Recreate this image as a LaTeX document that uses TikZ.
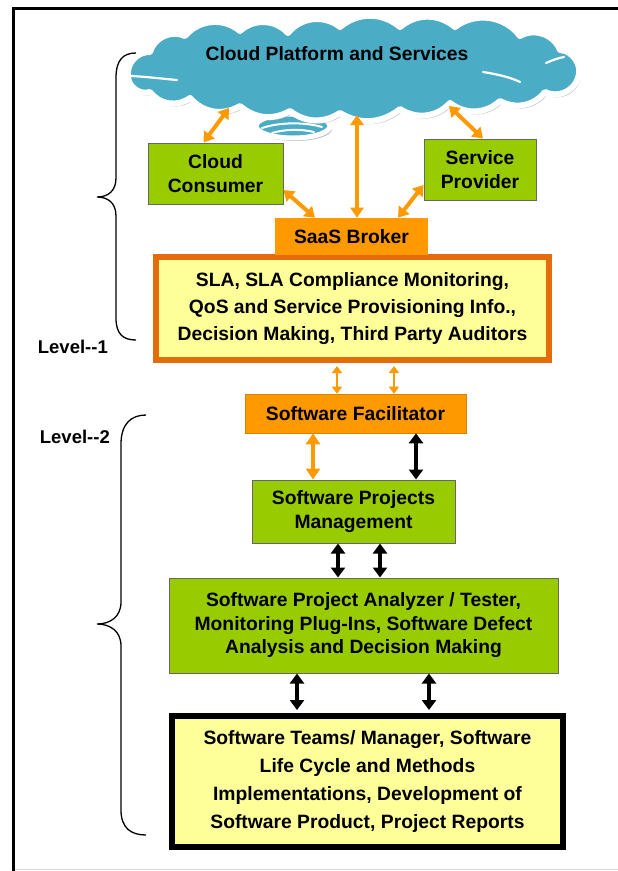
\documentclass[tikz,border=0pt]{standalone}
\usepackage{fontspec}
\setmainfont{Liberation Sans}
\usetikzlibrary{arrows.meta,calc}

\definecolor{cloudblue}{HTML}{4BACC6}
\definecolor{cloudedge}{HTML}{B8BEC4}
\definecolor{boxgreen}{HTML}{99CC00}
\definecolor{brokerorange}{HTML}{FF9900}
\definecolor{slaborder}{HTML}{E46C0A}
\definecolor{paleyellow}{HTML}{FFFF99}

% scalloped outline of the cloud, traced clockwise
\newcommand\cloudoutline{%
  (128,76) to[bend left=50] (150,52) to[bend left=50] (185,36)
  to[bend left=45] (240,31) to[bend left=45] (288,33)
  to[bend left=45] (340,27) to[bend left=40] (400,27)
  to[bend left=40] (455,27) to[bend left=45] (520,36)
  to[bend left=50] (560,50) to[bend left=55] (578,78)
  to[bend left=50] (545,92) to[bend left=40] (500,101)
  to[bend left=40] (450,103) to[bend left=40] (400,109)
  to[bend left=35] (340,113) to[bend left=35] (290,111)
  to[bend left=35] (240,106) to[bend left=40] (190,98)
  to[bend left=45] (150,92) to[bend left=55] cycle}
\newcommand\cloudtail{(293,126) ellipse [x radius=37pt, y radius=12pt]}

\begin{document}
\begin{tikzpicture}[x=1pt,y=-1pt,
  every node/.style={font=\fontsize{19.3}{24}\selectfont\bfseries, align=center, inner sep=0pt},
  greenbox/.style={draw=black!60, line width=1pt, fill=boxgreen},
  orangebox/.style={draw=brokerorange!85!black, line width=0.6pt, fill=brokerorange},
  slabox/.style={draw=slaborder, line width=6pt, fill=paleyellow},
  teambox/.style={draw=black, line width=6pt, fill=paleyellow},
  oarrow/.style={draw=brokerorange, line width=4pt,
    {Triangle[width=13pt,length=10pt]}-{Triangle[width=13pt,length=10pt]}},
  thinarrow/.style={draw=brokerorange, line width=2pt,
    {Triangle[width=10pt,length=7pt]}-{Triangle[width=10pt,length=7pt]}},
  barrow/.style={draw=black, line width=4pt,
    {Triangle[width=14pt,length=10pt]}-{Triangle[width=14pt,length=10pt]}},
  bracepath/.style={draw=black, line width=1.3pt},
  levellabel/.style={font=\fontsize{18.5}{22}\selectfont\bfseries}]

\useasboundingbox (0,0) rectangle (618,871);
\fill[white] (0,0) rectangle (618,871);

% outer frame
\draw[black!15, line width=1.5pt] (15,869.5) -- (618,869.5);
\draw[black, line width=3.5pt] (13.5,871) -- (13.5,8.5) -- (618,8.5);

% small tail puff under the cloud
\fill[cloudedge, shift={(2,3)}] \cloudtail;
\draw[white, line width=5pt, fill=cloudblue] \cloudtail;
\begin{scope}[white, line width=2pt, line cap=round]
  \draw (262,128) .. controls (280,122) and (305,122) .. (322,127);
  \draw (272,133) .. controls (285,129) and (302,129) .. (314,132);
\end{scope}

% cloud: shadow, white rim, blue body
\fill[cloudedge, shift={(2,3)}] \cloudoutline;
\draw[white, line width=6pt, line join=round, fill=cloudblue] \cloudoutline;
% highlights inside the cloud
\begin{scope}[white, line width=2.2pt, line cap=round]
  \draw (131,76) .. controls (150,77) and (165,79) .. (177,80);
  \draw (546,63) .. controls (553,60) and (558,58) .. (564,57);
  \draw (483,72) .. controls (496,74) and (510,77) .. (520,82);
\end{scope}
\node (cloud) at (337,54) {Cloud Platform and Services};
\coordinate (cl1) at (229,108);
\coordinate (cl2) at (357,115);
\coordinate (cl3) at (449,106);

% level 1 boxes
\node[greenbox, minimum width=135pt, minimum height=61pt] (cc) at (215.5,173.5) {Cloud\\Consumer};
\node[greenbox, minimum width=112pt, minimum height=61pt] (sp) at (480,169.5) {Service\\Provider};
\node[slabox, minimum width=393pt, minimum height=103pt,
  font=\fontsize{19.3}{27}\selectfont\bfseries] (sla) at (352.5,308.5)
  {SLA, SLA Compliance Monitoring,\\QoS and Service Provisioning Info.,\\Decision Making, Third Party Auditors};
\node[orangebox, draw=none, minimum width=153pt, minimum height=37pt] (saas) at (351.5,236.5) {SaaS Broker};

% level 2 boxes
\node[orangebox, minimum width=221pt, minimum height=39pt] (fac) at (355.5,413.5) {Software Facilitator};
\node[greenbox, minimum width=203pt, minimum height=63pt] (spm) at (353.5,511.5) {Software Projects\\Management};
\node[greenbox, minimum width=389pt, minimum height=95pt,
  font=\fontsize{19.3}{23.5}\selectfont\bfseries] (ana) at (363.5,625.5)
  {Software Project Analyzer / Tester,\\Monitoring Plug-Ins, Software Defect\\Analysis and Decision Making};
\node[teambox, minimum width=391pt, minimum height=131pt,
  font=\fontsize{19.3}{28.3}\selectfont\bfseries] (team) at (367.5,781.5)
  {Software Teams/ Manager, Software\\Life Cycle and Methods\\Implementations, Development of\\Software Product, Project Reports};

% connectors
\draw[oarrow] (cl1) -- ([xshift=-12pt]cc.north);
\draw[oarrow] (cl2) -- ([xshift=5.5pt]saas.north);
\draw[oarrow] (cl3) -- ([xshift=3pt]sp.north);
\draw[oarrow] ([yshift=-16.5pt]cc.east) -- ([xshift=-36.5pt]saas.north);
\draw[oarrow] ([yshift=-15.5pt]sp.west) -- ([xshift=46.5pt]saas.north);
\draw[thinarrow] ([xshift=-15.5pt,yshift=-3pt]sla.south) -- ([xshift=-18.5pt]fac.north);
\draw[thinarrow] ([xshift=41.5pt,yshift=-3pt]sla.south) -- ([xshift=38.5pt]fac.north);
\draw[oarrow, {Triangle[width=14pt,length=11pt]}-{Triangle[width=14pt,length=11pt]}]
  ([xshift=-42.5pt]fac.south) -- ([xshift=-40.5pt]spm.north);
\draw[barrow] ([xshift=60.5pt]fac.south) -- ([xshift=62.5pt]spm.north);
\draw[barrow] ([xshift=-15.5pt]spm.south) -- ([xshift=-25.5pt]ana.north);
\draw[barrow] ([xshift=26.5pt]spm.south) -- ([xshift=16.5pt]ana.north);
\draw[barrow] ([xshift=-66.5pt]ana.south) -- ([xshift=-70.5pt,yshift=3pt]team.north);
\draw[barrow] ([xshift=65.5pt]ana.south) -- ([xshift=61.5pt,yshift=3pt]team.north);

% braces grouping the two levels
\draw[bracepath] (136,53) .. controls (123,53) and (116,60) .. (116,78)
  -- (116,178) .. controls (116,191) and (108,197) .. (97,197)
  .. controls (108,197) and (116,203) .. (116,216)
  -- (116,318) .. controls (116,334) and (123,340) .. (136,340);
\draw[bracepath] (146,415) .. controls (131,415) and (121,424) .. (121,444)
  -- (121,602) .. controls (121,617) and (110,624) .. (97,624)
  .. controls (110,624) and (121,631) .. (121,646)
  -- (121,810) .. controls (121,828) and (131,835) .. (146,835);
\node[levellabel, anchor=east] (lev1) at (108,347) {Level-{}-1};
\node[levellabel, anchor=east] (lev2) at (110,437) {Level-{}-2};

\end{tikzpicture}
\end{document}
